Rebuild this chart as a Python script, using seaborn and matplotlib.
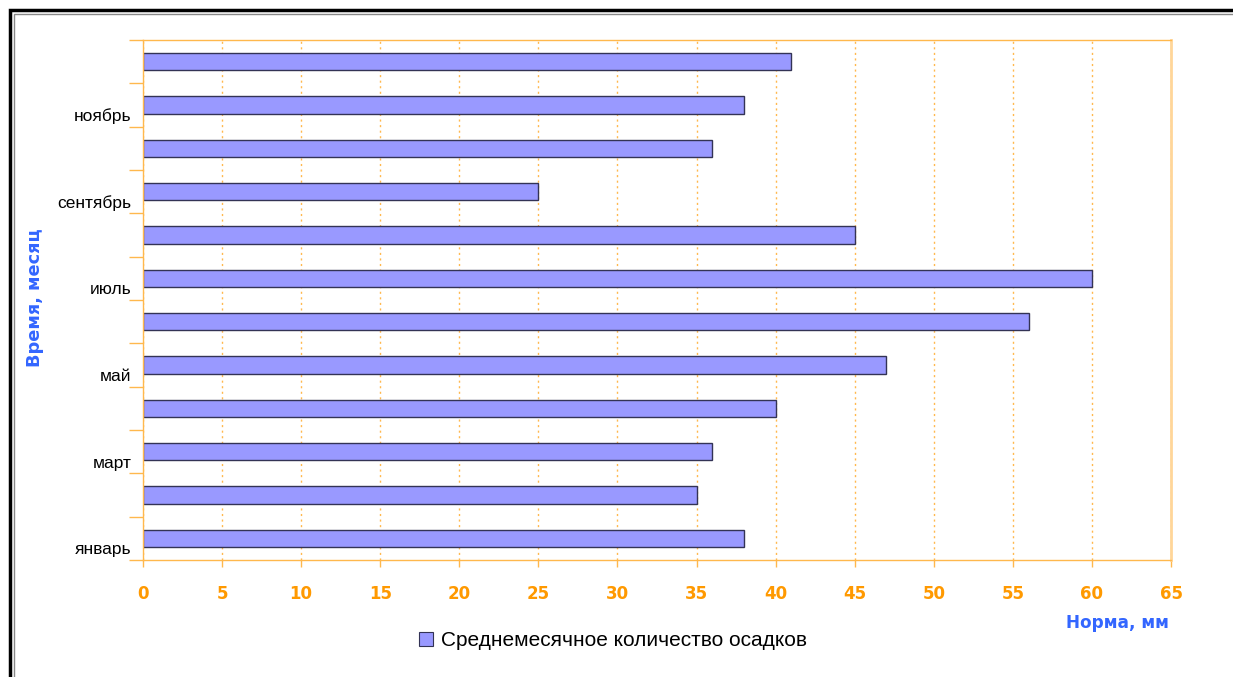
import matplotlib
matplotlib.use("Agg")
import matplotlib.pyplot as plt
import matplotlib.transforms as mtransforms
from matplotlib.patches import Rectangle, Patch
import seaborn as sns
import pandas as pd

months = ["январь", "февраль", "март", "апрель", "май", "июнь",
          "июль", "август", "сентябрь", "октябрь", "ноябрь", "декабрь"]
precip = [38, 35, 36, 40, 47, 56, 60, 45, 25, 36, 38, 41]
shown_labels = ["январь", "март", "май", "июль", "сентябрь", "ноябрь"]
x_ticks = list(range(0, 70, 5))

sns.set_theme(style="white")
plt.rcParams['font.family'] = ['Liberation Sans', 'DejaVu Sans']
plt.rcParams['text.color'] = 'black'

df = pd.DataFrame({"month": months, "value": precip})
order = months[::-1]

fig = plt.figure(figsize=(12.33, 6.77), dpi=100)
ax = fig.add_axes([143/1233, 1 - 560/677, (1171-143)/1233, (560-40)/677])

sns.barplot(data=df, y="month", x="value", order=order, orient="h",
            color="#9999FF", saturation=1, width=0.4,
            edgecolor="#333355", linewidth=1.0, ax=ax)

orange = "#FFB84D"
ax.set_xlim(0, 65)
ax.set_ylim(11.5, -0.5)
ax.set_xticks(x_ticks)
ax.set_xticklabels([str(v) for v in x_ticks], color="#FF9900",
                   fontweight="bold", family="DejaVu Sans", fontsize=12)
ax.tick_params(axis="x", length=5, color=orange, width=1, pad=13, bottom=True)

# major y ticks at category boundaries (marks only)
ax.set_yticks([i - 0.5 for i in range(13)])
ax.set_yticklabels([])
ax.tick_params(axis="y", which="major", length=10, color=orange, width=1, left=True)
# minor y ticks at category centers carry the labels
ax.set_yticks(list(range(12)), minor=True)
ax.set_yticklabels([m if m in shown_labels else "" for m in order], minor=True,
                   fontsize=12.5, color="black")
ax.tick_params(axis="y", which="minor", length=0, pad=8.5)
offset = mtransforms.ScaledTranslation(0, -10/100, fig.dpi_scale_trans)
for lab in ax.get_yticklabels(minor=True):
    lab.set_transform(lab.get_transform() + offset)

ax.xaxis.grid(True, linestyle=(0, (1.5, 2.5)), color=orange, linewidth=1)
ax.yaxis.grid(False)
ax.set_axisbelow(True)
for s in ["left", "bottom", "top"]:
    ax.spines[s].set_color(orange)
    ax.spines[s].set_linewidth(1)
ax.spines["right"].set_color("#FFD699")
ax.spines["right"].set_linewidth(2)
ax.set_xlabel("")
ax.set_ylabel("")

fig.text(35/1233, 1 - 298/677, "Время, месяц", rotation=90, color="#3366FF",
         fontweight="bold", fontsize=12.8, ha="center", va="center",
         family="DejaVu Sans")
fig.text(1117/1233, 1 - 623/677, "Норма, мм", color="#3366FF",
         fontweight="bold", fontsize=12.2, ha="center", va="center",
         family="DejaVu Sans")

handle = Patch(facecolor="#9999FF", edgecolor="#333355", linewidth=0.8)
leg = fig.legend([handle], ["Среднемесячное количество осадков"], loc="center",
                 bbox_to_anchor=(613/1233, 1 - 641/677), frameon=False, fontsize=15,
                 handlelength=0.65, handleheight=0.65, handletextpad=0.4)
for t in leg.get_texts():
    t.set_color("black")

# outer frame
fig.patches.append(Rectangle((10/1233, -0.1), 1.2, 1 - 10/677 + 0.1,
                             transform=fig.transFigure, fill=False,
                             edgecolor="black", linewidth=2.5))
fig.patches.append(Rectangle((14/1233, -0.1), 1.2, 1 - 14/677 + 0.1,
                             transform=fig.transFigure, fill=False,
                             edgecolor="#888888", linewidth=1))

fig.savefig("out.png", dpi=100)
